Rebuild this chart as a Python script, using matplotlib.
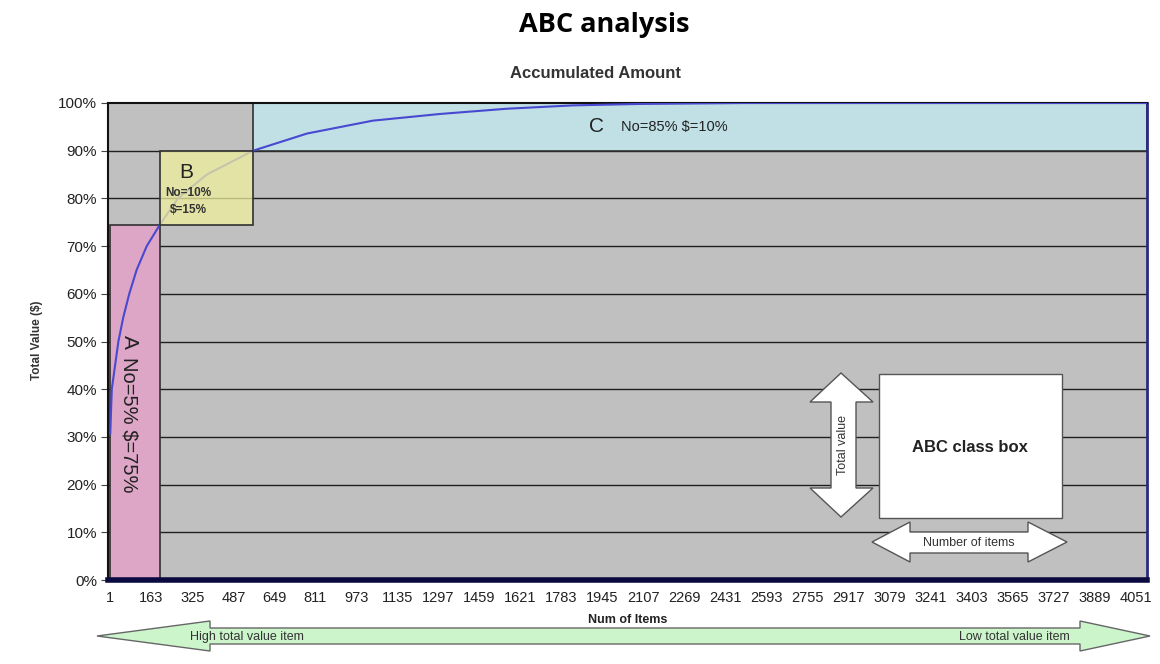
import matplotlib.pyplot as plt
from matplotlib.patches import Polygon, Rectangle

# cumulative value curve
items = [1, 7, 20, 33, 52, 76, 105, 145, 197, 268, 382, 565, 778, 1038, 1303, 1567, 1828, 2092, 2500, 3000, 4095]
cum_pct = [30.7, 40, 45, 50, 55, 60, 65, 70, 74.5, 80, 85, 90, 93.6, 96.3, 97.7, 98.8, 99.5, 99.8, 100, 100, 100]

# class boxes
classes = ['A', 'B', 'C']
cls_x0 = [1, 197, 565]
cls_x1 = [197, 565, 4095]
cls_y0 = [0, 74.5, 90]
cls_y1 = [74.5, 90, 100]
cls_col = ['#dea6c6', '#f0f09d', '#c0e0e6']
cls_alpha = [1, 0.75, 1]
cls_z = [2, 4, 2]

xtick_vals = list(range(1, 4052, 162))
ytick_vals = list(range(0, 101, 10))

W, H = 1160, 664
plt.rcParams['font.family'] = ['Liberation Sans', 'DejaVu Sans']
fig = plt.figure(figsize=(W / 100, H / 100), dpi=100)


def px(x, y):
    return (x / W, 1 - y / H)


ax = fig.add_axes([108 / W, (H - 580) / H, (1147 - 108) / W, (580 - 103) / H])
ax.set_facecolor('#c0c0c0')
ax.set_xlim(-8, 4095)
ax.set_ylim(0, 100)

for y in ytick_vals[1:-1]:
    ax.axhline(y, color='#202020', lw=1, zorder=1)

for i in range(3):
    ax.add_patch(Rectangle((cls_x0[i], cls_y0[i]), cls_x1[i] - cls_x0[i], cls_y1[i] - cls_y0[i],
                           facecolor=cls_col[i], alpha=cls_alpha[i], edgecolor='none', zorder=cls_z[i]))
    ax.add_patch(Rectangle((cls_x0[i], cls_y0[i]), cls_x1[i] - cls_x0[i], cls_y1[i] - cls_y0[i],
                           facecolor='none', edgecolor='#303030', lw=1.2, zorder=cls_z[i]))

ax.plot(items, cum_pct, color='#4848d0', lw=1.5, zorder=3)

ax.set_xticks(xtick_vals)
ax.set_xticklabels([str(v) for v in xtick_vals], fontsize=10.5, color='#222222')
ax.set_yticks(ytick_vals)
ax.set_yticklabels([f'{v}%' for v in ytick_vals], fontsize=11, color='#222222')
ax.tick_params(axis='x', length=0, pad=8)
ax.tick_params(axis='y', length=5, direction='out', color='#444444', pad=3)

ax.spines['left'].set_color('#111111')
ax.spines['left'].set_linewidth(1.5)
ax.spines['top'].set_color('#111111')
ax.spines['top'].set_linewidth(1.5)
ax.spines['right'].set_color('#2a2a80')
ax.spines['right'].set_linewidth(2)
ax.spines['bottom'].set_color('#0a0a40')
ax.spines['bottom'].set_linewidth(4)

# class labels
fig.text(*px(129, 335), 'A', rotation=270, fontsize=15, ha='center', va='top', color='#222222')
fig.text(*px(129, 357), 'No=5% $=75%', rotation=270, fontsize=14.5, ha='center', va='top', color='#222222')
fig.text(*px(186, 172), 'B', fontsize=15, ha='center', va='center', color='#222222')
fig.text(*px(188, 193), 'No=10%', fontsize=8.5, fontweight='bold', ha='center', va='center', color='#333333', zorder=6)
fig.text(*px(188, 210), '$=15%', fontsize=8.5, fontweight='bold', ha='center', va='center', color='#333333', zorder=6)
fig.text(*px(597, 126), 'C', fontsize=15, ha='center', va='center', color='#222222')
fig.text(*px(621, 127), 'No=85% $=10%', fontsize=10.5, ha='left', va='center', color='#222222')

# titles and axis labels
fig.text(604 / W, 1 - 25 / H, 'ABC analysis', fontsize=19.5, fontweight='bold', family='Open Sans', ha='center', va='center')
fig.text(*px(595, 74), 'Accumulated Amount', fontsize=12, fontweight='bold', ha='center', va='center', color='#333333')
fig.text(*px(37, 340), 'Total Value ($)', fontsize=8.5, fontweight='bold', rotation=90, ha='center', va='center', color='#333333')
fig.text(*px(628, 620), 'Num of Items', fontsize=9, fontweight='bold', ha='center', va='center', color='#222222')

# ABC class box legend
fig.add_artist(Rectangle(px(879, 518), (1062 - 879) / W, (518 - 374) / H, transform=fig.transFigure,
                         facecolor='white', edgecolor='#555555', lw=1, zorder=5))
fig.text(*px(970, 447), 'ABC class box', fontsize=12, fontweight='bold', ha='center', va='center', color='#222222', zorder=6)

v_arrow = [(841, 373), (873, 402), (856, 402), (856, 488), (873, 488), (841, 517),
           (810, 488), (831, 488), (831, 402), (810, 402)]
fig.add_artist(Polygon([px(*p) for p in v_arrow], closed=True, transform=fig.transFigure,
                       facecolor='white', edgecolor='#555555', lw=1, zorder=5))
fig.text(*px(843, 445), 'Total value', fontsize=9, rotation=90, ha='center', va='center', color='#333333', zorder=6)

h_arrow = [(872, 542), (910, 522), (910, 532), (1028, 532), (1028, 522), (1067, 542),
           (1028, 562), (1028, 553), (910, 553), (910, 562)]
fig.add_artist(Polygon([px(*p) for p in h_arrow], closed=True, transform=fig.transFigure,
                       facecolor='white', edgecolor='#555555', lw=1, zorder=5))
fig.text(*px(969, 543), 'Number of items', fontsize=9, ha='center', va='center', color='#333333', zorder=6)

# bottom green arrow
g_arrow = [(97, 636), (210, 621), (210, 628), (1080, 628), (1080, 621), (1150, 636),
           (1080, 651), (1080, 644), (210, 644), (210, 651)]
fig.add_artist(Polygon([px(*p) for p in g_arrow], closed=True, transform=fig.transFigure,
                       facecolor='#ccf5cc', edgecolor='#666666', lw=1, zorder=5))
fig.text(*px(190, 637), 'High total value item', fontsize=9, ha='left', va='center', color='#333333', zorder=6)
fig.text(*px(1070, 637), 'Low total value item', fontsize=9, ha='right', va='center', color='#333333', zorder=6)

fig.savefig('out.png', dpi=100)
